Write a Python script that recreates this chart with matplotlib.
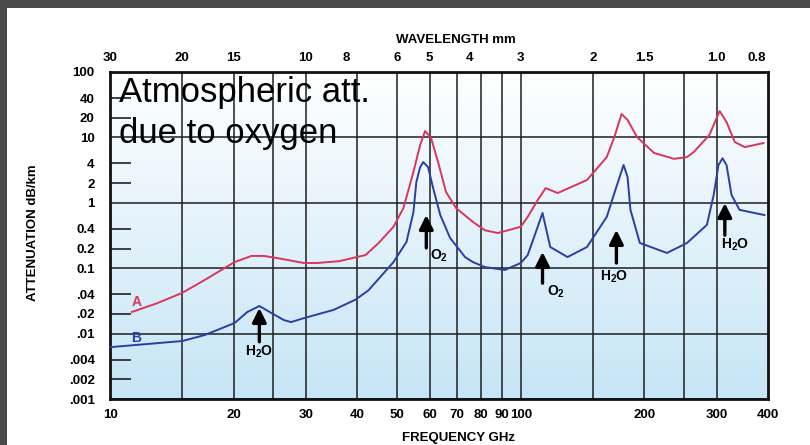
import matplotlib
matplotlib.use("Agg")
import matplotlib.pyplot as plt
import numpy as np
from matplotlib.ticker import FixedLocator, FixedFormatter, NullFormatter
from matplotlib.patches import Rectangle
from matplotlib.colors import LinearSegmentedColormap

# ==============================================================================
# DATA
# ==============================================================================
# curve A (red)
freq_a = [11.3, 13.0, 15.0, 17.0, 20.1, 22.1, 23.7, 25.5, 29.7, 31.9, 36.1, 41.9, 45.1,
          49.0, 51.8, 54.8, 56.9, 58.5, 60.5, 62.9, 65.8, 69.6, 76.5, 81.8, 88.0,
          100, 104, 110, 115, 123, 145, 162, 169, 176, 182, 192, 211, 236, 254,
          264, 288, 305, 317, 332, 351, 390]
att_a = [0.0214, 0.029, 0.042, 0.066, 0.124, 0.154, 0.154, 0.143, 0.120, 0.120, 0.128, 0.159, 0.243,
         0.43, 0.83, 2.96, 7.65, 12.5, 9.8, 4.2, 1.46, 0.83, 0.51, 0.38, 0.345,
         0.43, 0.61, 1.10, 1.68, 1.41, 2.23, 5.0, 10.1, 22.8, 18.5, 10.1, 5.8, 4.7, 5.0,
         6.0, 10.9, 25.3, 17.2, 8.5, 7.1, 8.2]

# curve B (blue)
freq_b = [10.0, 15.0, 17.0, 20.1, 21.6, 23.1, 24.7, 26.5, 27.6, 29.7, 35.0, 39.6, 42.6,
          49.0, 52.7, 54.8, 55.7, 56.9, 57.9, 59.5, 61.2, 63.7, 67.3, 73.2, 76.5,
          81.8, 91.5, 100, 104, 110, 113, 115, 118, 130, 145, 162, 170, 178, 182,
          185, 195, 227, 254, 284, 295, 303, 310, 317, 326, 341, 392]
att_b = [0.0062, 0.0077, 0.0095, 0.0145, 0.0214, 0.0264, 0.0207, 0.0161, 0.0150, 0.0173, 0.023, 0.033, 0.046,
         0.124, 0.252, 0.72, 2.08, 3.5, 4.2, 3.5, 1.68, 0.65, 0.29, 0.148, 0.124,
         0.104, 0.094, 0.120, 0.159, 0.43, 0.70, 0.43, 0.211, 0.148, 0.211, 0.61, 1.57, 3.78, 2.48,
         0.78, 0.243, 0.171, 0.243, 0.46, 1.32, 3.78, 4.8, 3.78, 1.32, 0.78, 0.65]

# axis ticks
y_major = [0.001, 0.01, 0.1, 1, 10, 100]
y_major_labels = ['.001', '.01', '0.1', '1', '10', '100']
y_minor = [0.002, 0.004, 0.02, 0.04, 0.2, 0.4, 2, 4, 20, 40]
y_minor_labels = ['.002', '.004', '.02', '.04', '0.2', '0.4', '2', '4', '20', '40']
freq_labels = [10, 20, 30, 40, 50, 60, 70, 80, 90, 100, 200, 300, 400]
freq_grid = [15, 20, 25, 30, 40, 50, 60, 70, 80, 90, 100, 150, 200, 250, 300]
wavelength_mm = [30, 20, 15, 10, 8, 6, 5, 4, 3, 2, 1.5, 1.0, 0.8]
wavelength_labels = ['30', '20', '15', '10', '8', '6', '5', '4', '3', '2', '1.5', '1.0', '0.8']

# absorption line markers: (label, freq, arrow tip, arrow tail, label x, label y)
lines = [
    ('H$_2$O', 23.1, 0.0246, 0.0075, 23.1, 0.0052),
    ('O$_2$', 58.9, 0.65, 0.204, 63.3, 0.154),
    ('O$_2$', 113, 0.177, 0.059, 122, 0.043),
    ('H$_2$O', 171, 0.384, 0.120, 169, 0.073),
    ('H$_2$O', 314, 0.99, 0.32, 332, 0.226),
]

# ==============================================================================
# PLOT
# ==============================================================================
plt.rcParams['font.family'] = ['Liberation Sans', 'DejaVu Sans']
plt.rcParams['font.weight'] = 'bold'
plt.rcParams['mathtext.fontset'] = 'custom'
plt.rcParams['mathtext.rm'] = 'Liberation Sans:bold'
plt.rcParams['mathtext.it'] = 'Liberation Sans:bold'
plt.rcParams['mathtext.bf'] = 'Liberation Sans:bold'

RED = '#d8365a'
BLUE = '#2a3ea6'

fig = plt.figure(figsize=(8.1, 4.45), dpi=100)
fig.patch.set_facecolor('white')

# dark frame at top / left
fig.patches.append(Rectangle((0, 1 - 8 / 445), 1, 8 / 445, transform=fig.transFigure,
                             facecolor='#4a4a4a', edgecolor='none', zorder=0))
fig.patches.append(Rectangle((0, 0), 7 / 810, 1, transform=fig.transFigure,
                             facecolor='#4a4a4a', edgecolor='none', zorder=0))

rect = [110 / 810, 46 / 445, 658 / 810, 327 / 445]

# gradient background
bg = fig.add_axes(rect, zorder=0)
cmap = LinearSegmentedColormap.from_list('bg', ['#ffffff', '#c6e5f6'])
bg.imshow(np.linspace(0, 1, 256)[:, None], aspect='auto', cmap=cmap,
          extent=[0, 1, 0, 1], origin='upper')
bg.axis('off')

ax = fig.add_axes(rect, zorder=1)
ax.patch.set_alpha(0)
ax.set_xscale('log')
ax.set_yscale('log')
ax.set_xlim(10, 400)
ax.set_ylim(0.001, 100)

ax.plot(freq_a, att_a, color=RED, lw=1.4, zorder=4, solid_joinstyle='round')
ax.plot(freq_b, att_b, color=BLUE, lw=1.4, zorder=4, solid_joinstyle='round')

# y ticks
ax.yaxis.set_major_locator(FixedLocator(y_major))
ax.yaxis.set_major_formatter(FixedFormatter(y_major_labels))
ax.yaxis.set_minor_locator(FixedLocator(y_minor))
ax.yaxis.set_minor_formatter(FixedFormatter(y_minor_labels))
ax.tick_params(axis='y', which='major', length=0, pad=11, labelsize=9.5)
ax.tick_params(axis='y', which='minor', direction='in', length=15, width=1.2,
               color='#222222', pad=11, labelsize=9.5)

# x ticks
ax.xaxis.set_major_locator(FixedLocator(freq_labels))
ax.xaxis.set_major_formatter(FixedFormatter([str(v) for v in freq_labels]))
ax.xaxis.set_minor_locator(FixedLocator(freq_grid))
ax.xaxis.set_minor_formatter(NullFormatter())
ax.tick_params(axis='x', which='both', length=0, pad=7, labelsize=9.5)

ax.grid(axis='y', which='major', color='#1e1e1e', lw=1.1, zorder=2)
for f in freq_grid:
    ax.axvline(f, color='#1e1e1e', lw=1.1, zorder=2)
for sp in ax.spines.values():
    sp.set_linewidth(2)
    sp.set_color('#111111')

# top wavelength axis
ax2 = ax.twiny()
ax2.set_xscale('log')
ax2.set_xlim(ax.get_xlim())
ax2.xaxis.set_major_locator(FixedLocator([300.0 / w for w in wavelength_mm]))
ax2.xaxis.set_major_formatter(FixedFormatter(wavelength_labels))
ax2.xaxis.set_minor_locator(FixedLocator([]))
ax2.tick_params(axis='x', which='both', length=0, pad=6, labelsize=9.5)
for sp in ax2.spines.values():
    sp.set_visible(False)

# curve labels
ax.text(11.6, 0.030, 'A', color=RED, fontsize=10, ha='center', va='center', zorder=5)
ax.text(11.6, 0.0086, 'B', color=BLUE, fontsize=10, ha='center', va='center', zorder=5)

# absorption line arrows
for name, fx, tip, tail, lx, ly in lines:
    ax.annotate('', xy=(fx, tip), xytext=(fx, tail),
                arrowprops=dict(arrowstyle='-|>,head_length=0.6,head_width=0.3',
                                color='black', lw=2.4, shrinkA=0, shrinkB=0,
                                mutation_scale=14), zorder=5)
    ax.text(lx, ly, name, fontsize=10, ha='center', va='center', zorder=5)

# axis titles
fig.text(456 / 810, 1 - 40 / 445, 'WAVELENGTH mm', fontsize=9.5, ha='center', va='center')
fig.text(458 / 810, 1 - 432 / 445, 'FREQUENCY GHz', fontsize=9.5, ha='center', va='top')
fig.text(33 / 810, 1 - 233 / 445, 'ATTENUATION dB/km', fontsize=9.5, rotation=90,
         ha='center', va='center')

# big annotation
fig.text(119 / 810, 1 - 76 / 445, 'Atmospheric att.\ndue to oxygen', fontsize=25,
         fontweight='normal', ha='left', va='top', linespacing=1.3, zorder=10)

plt.savefig('out.png', dpi=100)
